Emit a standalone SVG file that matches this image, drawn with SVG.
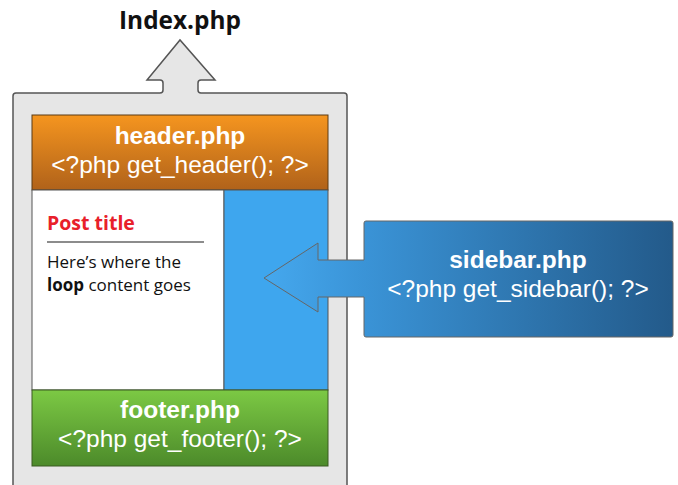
<svg xmlns="http://www.w3.org/2000/svg" width="678" height="485" viewBox="0 0 678 485">
<defs>
<linearGradient id="gHead" x1="0" y1="0" x2="0" y2="1"><stop offset="0" stop-color="#f5951f"/><stop offset="1" stop-color="#b0621a"/></linearGradient>
<linearGradient id="gFoot" x1="0" y1="0" x2="0" y2="1"><stop offset="0" stop-color="#7cc944"/><stop offset="1" stop-color="#4c8a2a"/></linearGradient>
<linearGradient id="gSide" gradientUnits="userSpaceOnUse" x1="264" y1="0" x2="673" y2="0"><stop offset="0" stop-color="#45a8ee"/><stop offset="0.25" stop-color="#3a93d6"/><stop offset="1" stop-color="#235a8a"/></linearGradient>
<style>
.t{font-family:"Liberation Sans",Arial,sans-serif;text-anchor:middle;fill:#fff;font-size:24.5px}
.b{font-weight:bold;font-size:24.5px}
.c{font-family:"Open Sans","Noto Sans",sans-serif;fill:#111;font-size:17px}
</style>
</defs>
<rect width="678" height="485" fill="#fff"/>
<g id="index">
<path d="M13,490 L13,96 Q13,93 16,93 L160,93 Q163,93 163,90 L163,83 Q163,80 160,80 L147,80 L180,40 L215,80 L201,80 Q198,80 198,83 L198,90 Q198,93 201,93 L344,93 Q347,93 347,96 L347,490" fill="#e6e6e6" stroke="#555" stroke-width="1.5"/>
<text x="180" y="29" font-family="Open Sans, Noto Sans, sans-serif" font-weight="bold" font-size="24.4" text-anchor="middle" fill="#111">Index.php</text>
</g>
<g id="header">
<rect x="32" y="115" width="296" height="75" fill="url(#gHead)" stroke="#5a3a15" stroke-width="1"/>
<text class="t b" x="180" y="144">header.php</text>
<text class="t" x="180" y="173">&lt;?php get_header(); ?&gt;</text>
</g>
<g id="content">
<rect x="32" y="190" width="192" height="200" fill="#fff" stroke="#555" stroke-width="1"/>
<text x="47" y="230" font-family="Open Sans, Noto Sans, sans-serif" font-weight="bold" font-size="19.5" fill="#e8202a">Post title</text>
<line x1="47" y1="242" x2="204" y2="242" stroke="#666" stroke-width="1.5"/>
<text class="c" x="47" y="268">Here’s where the</text>
<text class="c" x="47" y="291"><tspan font-weight="bold">loop</tspan> content goes</text>
</g>
<g id="sidebar-area">
<rect x="224" y="190" width="104" height="200" fill="#3ea6ee" stroke="#555" stroke-width="1"/>
</g>
<g id="footer">
<rect x="32" y="390" width="296" height="76" fill="url(#gFoot)" stroke="#3a5a20" stroke-width="1"/>
<text class="t b" x="180" y="418">footer.php</text>
<text class="t" x="180" y="447">&lt;?php get_footer(); ?&gt;</text>
</g>
<g id="connectors">
<path d="M364,223 Q364,221 366,221 L671,221 Q673,221 673,223 L673,335 Q673,337 671,337 L366,337 Q364,337 364,335 L364,297 L318,297 L318,312 L264,278 L318,243 L318,260 L364,260 Z" fill="url(#gSide)" stroke="#666" stroke-width="1"/>
</g>
<g id="sidebar">
<text class="t b" x="518" y="268">sidebar.php</text>
<text class="t" x="518" y="297">&lt;?php get_sidebar(); ?&gt;</text>
</g>
</svg>
